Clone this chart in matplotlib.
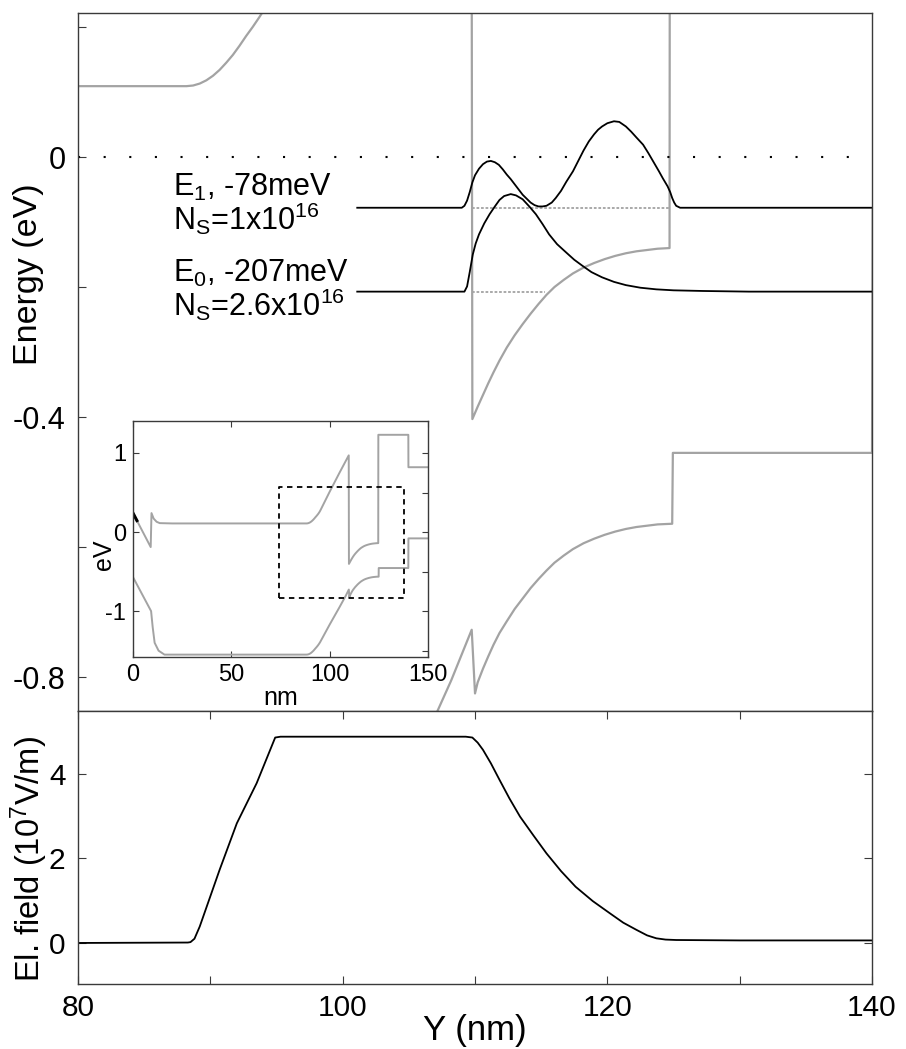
import matplotlib
matplotlib.use("Agg")
import matplotlib.pyplot as plt
from matplotlib.ticker import FixedLocator

plt.rcParams['font.family'] = ['Liberation Sans', 'DejaVu Sans']
plt.rcParams['mathtext.default'] = 'regular'
plt.rcParams['axes.unicode_minus'] = False

# ---- band edges (eV) versus position Y (nm) ----
cb_x = [0, 9.0, 9.4, 10.5, 12.0, 13.6, 20, 80, 88.2, 88.7, 89.2, 89.7, 90.2, 90.7, 91.2,
        91.7, 92.2, 92.7, 93.2, 93.7, 94.2, 94.7, 95.2, 100, 105, 109.7,
        109.8, 110.2, 110.6, 111.0, 111.4, 111.85, 112.4, 113.0, 113.6, 114.2, 114.8,
        115.4, 116.0, 116.7, 117.4, 118.2, 119.0, 119.8, 120.6, 121.4, 122.2, 123.0,
        123.8, 124.7, 124.75, 140, 140.05, 150]
cb_e = [0.24, -0.19, 0.24, 0.17, 0.13, 0.113, 0.109, 0.109, 0.109, 0.110, 0.113, 0.118,
        0.125, 0.134, 0.145, 0.157, 0.171, 0.186, 0.200, 0.215, 0.231, 0.249, 0.27,
        0.51, 0.75, 0.97,
        -0.403, -0.384, -0.366, -0.348, -0.331, -0.313, -0.293, -0.274, -0.257, -0.241,
        -0.226, -0.212, -0.200, -0.189, -0.179, -0.170, -0.163, -0.157, -0.152, -0.148,
        -0.145, -0.143, -0.141, -0.140, 1.23, 1.23, 0.82, 0.82]

vb_x = [0, 9.2, 10.0, 11.0, 13.0, 16.0, 88.2, 88.7, 89.2, 89.7, 90.2, 90.7, 91.2, 91.7,
        92.2, 92.7, 93.2, 93.7, 94.2, 94.7, 95.2, 100, 105, 108.2, 109.75,
        110.0, 110.2, 110.6, 111.0, 111.4, 111.85, 112.4, 113.0, 113.6, 114.2, 114.8,
        115.4, 116.0, 116.7, 117.4, 118.2, 119.0, 119.8, 120.6, 121.4, 122.2, 123.0,
        123.8, 124.9, 124.95, 140, 140.05, 150]
vb_e = [-0.57, -1.0, -1.2, -1.4, -1.5, -1.55, -1.55, -1.549, -1.546, -1.541, -1.534,
        -1.525, -1.514, -1.502, -1.488, -1.473, -1.459, -1.444, -1.428, -1.41, -1.39,
        -1.17, -0.95, -0.805, -0.727,
        -0.825, -0.808, -0.787, -0.768, -0.750, -0.732, -0.714, -0.695, -0.679, -0.663,
        -0.649, -0.636, -0.624, -0.613, -0.603, -0.594, -0.587, -0.581, -0.576, -0.572,
        -0.569, -0.567, -0.565, -0.564, -0.455, -0.455, -0.08, -0.08]

# darker stretch of the conduction band at the surface
surface_x = [0, 2.0]
surface_e = [0.24, 0.145]

# ---- subbands ----
level_names = ['E$_1$', 'E$_0$']
level_mev = [-78, -207]
sheet_density = ['1x10$^{16}$', '2.6x10$^{16}$']
level_span_x = [[109.8, 124.7], [109.8, 115.3]]

# wavefunction amplitude above its level (eV scale)
psi1_x = [101.1, 109.0, 109.2, 109.4, 109.6, 109.8, 110.0, 110.3, 110.6, 110.9, 111.2,
          111.5, 111.8, 112.1, 112.4, 112.7, 113.0, 113.3, 113.6, 113.9, 114.2, 114.5,
          114.8, 115.1, 115.4, 115.8, 116.1, 116.5, 116.9, 117.4, 117.8, 118.2, 118.6,
          119.0, 119.3, 119.6, 120.0, 120.5, 120.9, 121.4, 121.8, 122.2, 122.7, 123.1,
          123.5, 123.9, 124.2, 124.55, 124.75, 124.9, 125.05, 125.2, 125.5, 140]
psi1_a = [0, 0, 0.003, 0.011, 0.024, 0.039, 0.050, 0.060, 0.067, 0.071, 0.072,
          0.070, 0.066, 0.059, 0.051, 0.044, 0.036, 0.028, 0.020, 0.014, 0.008, 0.004,
          0.002, 0.002, 0.003, 0.008, 0.015, 0.026, 0.040, 0.056, 0.072, 0.088, 0.102,
          0.113, 0.120, 0.125, 0.130, 0.133, 0.132, 0.125, 0.117, 0.108, 0.097, 0.084,
          0.070, 0.056, 0.045, 0.033, 0.024, 0.015, 0.008, 0.003, 0, 0]
psi0_x = [101.1, 109.2, 109.4, 109.6, 109.83, 110.05, 110.3, 110.7, 111.1, 111.5, 111.85,
          112.2, 112.7, 113.1, 113.6, 114.1, 114.6, 115.1, 115.6, 116.2, 116.9, 117.5,
          118.1, 118.8, 119.6, 120.5, 121.4, 122.5, 123.7, 125.0, 127.2, 130.7, 140]
psi0_a = [0, 0, 0.008, 0.030, 0.057, 0.074, 0.088, 0.105, 0.119, 0.131, 0.141,
          0.147, 0.150, 0.148, 0.142, 0.131, 0.119, 0.104, 0.088, 0.073, 0.060, 0.049,
          0.040, 0.030, 0.022, 0.015, 0.010, 0.006, 0.0035, 0.002, 0.001, 0, 0]

# Fermi level
fermi_e = 0.0
fermi_x = [80, 138.5]

# ---- electric field (10^7 V/m) ----
field_x = [80, 88.3, 88.5, 88.8, 89.2, 90.7, 92.0, 93.5, 94.9, 95.3, 100, 105, 109.3,
           109.8, 110.2, 110.6, 111.2, 111.85, 112.6, 113.4, 114.4, 115.4, 116.5, 117.6,
           118.9, 120.2, 121.2, 122.2, 123.0, 123.7, 124.4, 125.2, 130, 140]
field_v = [0.0, 0.01, 0.02, 0.10, 0.39, 1.73, 2.83, 3.78, 4.86, 4.88, 4.88, 4.88, 4.88,
           4.86, 4.74, 4.57, 4.25, 3.86, 3.42, 2.99, 2.55, 2.12, 1.70, 1.33,
           0.99, 0.70, 0.48, 0.31, 0.18, 0.11, 0.08, 0.07, 0.06, 0.06]

# dashed frame marking the enlarged region in the overview
box_x = [74, 138]
box_e = [-0.83, 0.57]

GRAY = '#a3a3a3'
SPINE = '#3a3a3a'

fig = plt.figure(figsize=(9.06, 10.49), dpi=100)
ax = fig.add_axes([0.0861, 0.3222, 0.8764, 0.6654])
axf = fig.add_axes([0.0861, 0.0620, 0.8764, 0.2603])
ins = fig.add_axes([0.1468, 0.3737, 0.3256, 0.225])

# ---- band diagram ----
ax.plot(cb_x, cb_e, color=GRAY, lw=1.6)
ax.plot(vb_x, vb_e, color=GRAY, lw=1.6)
for (x0, x1), mev in zip(level_span_x, level_mev):
    ax.plot([x0, x1], [mev / 1000, mev / 1000], color=GRAY, lw=1.3, linestyle=(0, (1.5, 1)))
for xs, amp, mev in [(psi1_x, psi1_a, level_mev[0]), (psi0_x, psi0_a, level_mev[1])]:
    ax.plot(xs, [mev / 1000 + a for a in amp], color='black', lw=1.3)
ax.plot(fermi_x, [fermi_e, fermi_e], color='black', lw=1.5, linestyle=(0, (1, 11.3)))

# level annotations, two lines each
label_top = [-0.0235, -0.1555]
for name, mev, ns, yt in zip(level_names, level_mev, sheet_density, label_top):
    ax.text(87.17, yt, f'{name}, {mev}meV\nN$_S$={ns}', fontsize=22, va='top',
            ha='left', linespacing=0.9)

ax.set_xlim(80, 140)
ax.set_ylim(-0.852, 0.2215)
ax.yaxis.set_major_locator(FixedLocator([-0.8, -0.4, 0.0]))
ax.yaxis.set_minor_locator(FixedLocator([-0.6, -0.2, 0.2]))
ax.yaxis.set_major_formatter(plt.FuncFormatter(lambda v, p: '0' if abs(v) < 1e-9 else f'{v:g}'))
ax.set_xticks([])
ax.tick_params(axis='y', which='both', direction='in', length=6, width=0.8,
               labelsize=22, pad=9, color=SPINE)
ax.set_ylabel('Energy (eV)', fontsize=24.5)
ax.yaxis.label.set_va('center')
ax.yaxis.set_label_coords(-0.062, 0.626)

# ---- electric field ----
axf.plot(field_x, field_v, color='black', lw=1.3)
axf.set_xlim(80, 140)
axf.set_ylim(-0.97, 5.49)
axf.xaxis.set_major_locator(FixedLocator([80, 100, 120, 140]))
axf.xaxis.set_minor_locator(FixedLocator([90, 110, 130]))
axf.yaxis.set_major_locator(FixedLocator([0, 2, 4]))
axf.tick_params(which='both', direction='in', length=6, width=0.8, labelsize=21.5,
                top=True, right=True, color=SPINE)
axf.tick_params(axis='x', pad=7)
axf.tick_params(axis='y', pad=9)
axf.set_xlabel('Y (nm)', fontsize=25)
axf.xaxis.label.set_va('center')
axf.xaxis.set_label_coords(0.5, -0.172)
axf.set_ylabel('El. field (10$^7$V/m)', fontsize=23.5)
axf.yaxis.label.set_va('center')
axf.yaxis.set_label_coords(-0.062, 0.458)

# ---- overview inset ----
ins.plot(cb_x, cb_e, color=GRAY, lw=1.4)
ins.plot(vb_x, vb_e, color=GRAY, lw=1.4)
ins.plot(surface_x, surface_e, color='black', lw=2.2)
ins.plot([box_x[0], box_x[1], box_x[1], box_x[0], box_x[0]],
         [box_e[0], box_e[0], box_e[1], box_e[1], box_e[0]],
         color='black', lw=1.3, linestyle=(0, (3, 2.5)))
ins.set_xlim(0, 150)
ins.set_ylim(-1.58, 1.405)
ins.xaxis.set_major_locator(FixedLocator([0, 50, 100, 150]))
ins.yaxis.set_major_locator(FixedLocator([-1, 0, 1]))
ins.yaxis.set_minor_locator(FixedLocator([-1.5, -0.5, 0.5]))
ins.tick_params(which='both', direction='in', length=4, width=0.8, labelsize=17,
                top=True, right=True, color=SPINE, pad=5)
ins.tick_params(which='minor', left=False)
ins.set_xlabel('nm', fontsize=18, labelpad=0)
ins.set_ylabel('eV', fontsize=18)
ins.yaxis.label.set_va('center')
ins.yaxis.set_label_coords(-0.10, 0.432)

for a in (ax, axf, ins):
    for s in a.spines.values():
        s.set_color(SPINE)
        s.set_linewidth(1.0)

fig.savefig('out.png', dpi=100)
